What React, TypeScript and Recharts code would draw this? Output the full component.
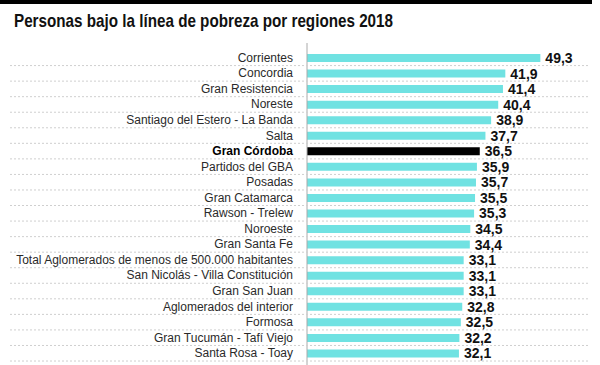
import React from 'react';
import { BarChart, Bar, XAxis, YAxis, Cell, LabelList } from 'recharts';

const regions = [
  'Corrientes',
  'Concordia',
  'Gran Resistencia',
  'Noreste',
  'Santiago del Estero - La Banda',
  'Salta',
  'Gran Córdoba',
  'Partidos del GBA',
  'Posadas',
  'Gran Catamarca',
  'Rawson - Trelew',
  'Noroeste',
  'Gran Santa Fe',
  'Total Aglomerados de menos de 500.000 habitantes',
  'San Nicolás - Villa Constitución',
  'Gran San Juan',
  'Aglomerados del interior',
  'Formosa',
  'Gran Tucumán - Tafí Viejo',
  'Santa Rosa - Toay',
];

const pobreza = [
  49.3, 41.9, 41.4, 40.4, 38.9, 37.7, 36.5, 35.9, 35.7, 35.5,
  35.3, 34.5, 34.4, 33.1, 33.1, 33.1, 32.8, 32.5, 32.2, 32.1,
];

const highlight = 'Gran Córdoba';
const title = 'Personas bajo la línea de pobreza por regiones 2018';

const data = regions.map((region, i) => ({ region, value: pobreza[i] }));

const BAR = '#70e2e2';
const FONT = '"Liberation Sans", Arial, sans-serif';

// label + dotted separator under each row
const RegionTick = (props: any) => {
  const { x, y, payload } = props;
  const bold = payload.value === highlight;
  return (
    <g>
      <line
        x1={10}
        x2={590}
        y1={y + 7.8}
        y2={y + 7.8}
        stroke="#cfcfcf"
        strokeWidth={1}
        strokeDasharray="2 2"
      />
      <text
        x={x}
        y={y}
        dy={4}
        textAnchor="end"
        fontFamily={FONT}
        fontSize={12}
        fontWeight={bold ? 700 : 400}
        fill={bold ? '#000' : '#2a2a2a'}
      >
        {payload.value}
      </text>
    </g>
  );
};

export default function App() {
  return (
    <div style={{ position: 'absolute', top: 0, left: 0, width: 600, height: 365, background: '#fff', overflow: 'hidden' }}>
      <div style={{ position: 'absolute', top: 0, left: 0, width: 592, height: 4, background: '#000' }} />
      <svg width={600} height={40} style={{ position: 'absolute', top: 0, left: 0 }}>
        <text
          x={14}
          y={27}
          fontFamily={FONT}
          fontSize={19}
          fontWeight={700}
          fill="#111"
          textLength={379}
          lengthAdjust="spacingAndGlyphs"
        >
          {title}
        </text>
      </svg>
      <div style={{ position: 'absolute', top: 0, left: 0 }}>
        <BarChart
          width={600}
          height={365}
          data={data}
          layout="vertical"
          margin={{ top: 43, right: 9, bottom: 0, left: 0 }}
          barCategoryGap={0}
        >
          <XAxis type="number" domain={[0, 60]} hide />
          <YAxis
            type="category"
            dataKey="region"
            width={307}
            padding={{ top: 7, bottom: 4 }}
            axisLine={{ stroke: '#aaa', strokeWidth: 1 }}
            tickLine={false}
            tickMargin={8}
            interval={0}
            tick={<RegionTick />}
          />
          <Bar dataKey="value" barSize={8} isAnimationActive={false}>
            {data.map((d) => (
              <Cell key={d.region} fill={d.region === highlight ? '#000' : BAR} />
            ))}
            <LabelList
              dataKey="value"
              position="right"
              offset={5}
              formatter={(v: any) => String(v).replace('.', ',')}
              style={{ fontFamily: FONT, fontSize: 14, fontWeight: 700, fill: '#111' }}
            />
          </Bar>
        </BarChart>
      </div>
    </div>
  );
}
